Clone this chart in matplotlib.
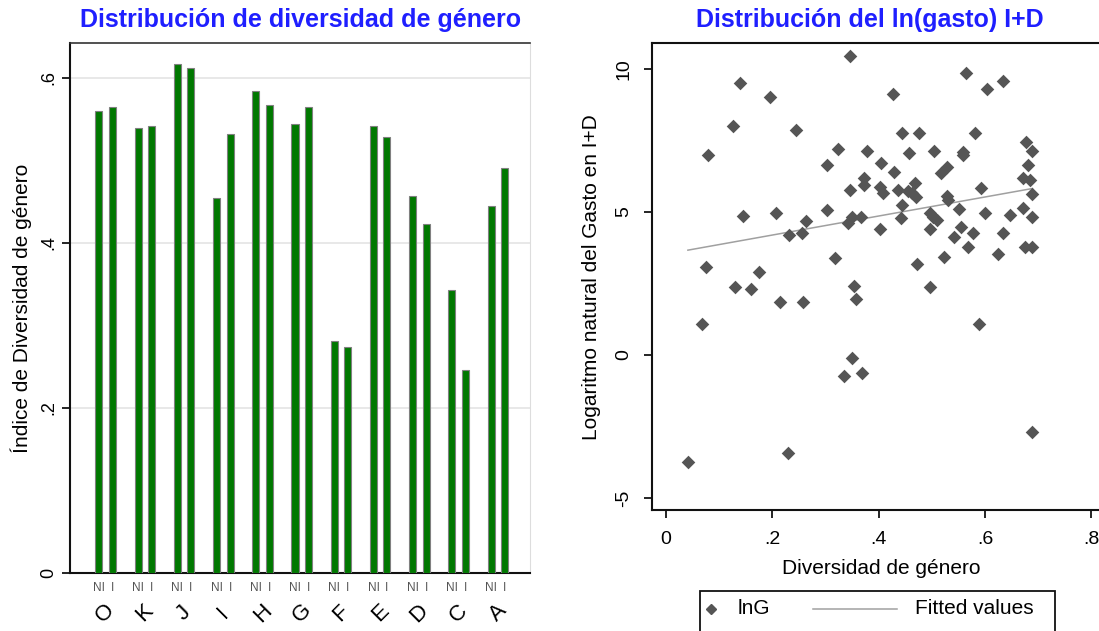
import numpy as np
import matplotlib
matplotlib.use("Agg")
import matplotlib.pyplot as plt
from matplotlib.lines import Line2D
from matplotlib.patches import Rectangle

plt.rcParams["font.family"] = ["Liberation Sans", "DejaVu Sans"]

# --- left panel: gender diversity index by sector, NI vs I
sectors = ["O", "K", "J", "I", "H", "G", "F", "E", "D", "C", "A"]
div_ni = [0.560, 0.539, 0.617, 0.454, 0.584, 0.544, 0.281, 0.542, 0.457, 0.343, 0.445]
div_i = [0.565, 0.542, 0.612, 0.532, 0.567, 0.565, 0.274, 0.528, 0.423, 0.246, 0.490]
sub_labels = ["NI", "I"]
left_yticks = [0, 0.2, 0.4, 0.6]
left_yticklabels = ["0", ".2", ".4", ".6"]

# --- right panel: ln(R&D spending) vs gender diversity
div_x = [0.346, 0.139, 0.196, 0.427, 0.564, 0.603, 0.633, 0.126, 0.2445, 0.079,
         0.303, 0.324, 0.379, 0.405, 0.430, 0.445, 0.476, 0.458, 0.504, 0.559,
         0.559, 0.582, 0.677, 0.689, 0.680, 0.671, 0.685, 0.688, 0.671, 0.689,
         0.676, 0.689, 0.625, 0.633, 0.647, 0.600, 0.593, 0.578, 0.569, 0.555,
         0.551, 0.541, 0.523, 0.528, 0.531, 0.517, 0.528, 0.497, 0.503, 0.509,
         0.497, 0.472, 0.470, 0.462, 0.456, 0.468, 0.437, 0.445, 0.442, 0.402,
         0.403, 0.409, 0.372, 0.372, 0.347, 0.368, 0.351, 0.343, 0.303, 0.318,
         0.263, 0.256, 0.231, 0.208, 0.146, 0.076, 0.175, 0.131, 0.160, 0.215,
         0.259, 0.354, 0.358, 0.497, 0.068, 0.589, 0.351, 0.335, 0.369, 0.688,
         0.230, 0.042]
lng = [10.47, 9.52, 9.03, 9.11, 9.85, 9.31, 9.59, 8.01, 7.88, 6.99,
       6.65, 7.20, 7.12, 6.72, 6.39, 7.75, 7.75, 7.06, 7.12, 7.10,
       6.99, 7.75, 7.46, 7.13, 6.65, 6.19, 6.12, 5.63, 5.15, 4.81,
       3.79, 3.79, 3.52, 4.26, 4.90, 4.95, 5.83, 4.26, 3.79, 4.46,
       5.09, 4.14, 3.44, 5.57, 5.42, 6.37, 6.58, 4.95, 4.84, 4.72,
       4.41, 3.17, 5.54, 5.65, 5.73, 6.02, 5.77, 5.24, 4.80, 4.41,
       5.86, 5.65, 6.20, 5.94, 5.77, 4.81, 4.84, 4.60, 5.07, 3.38,
       4.69, 4.26, 4.20, 4.95, 4.87, 3.09, 2.91, 2.37, 2.30, 1.86,
       1.86, 2.41, 1.95, 2.37, 1.07, 1.07, -0.12, -0.72, -0.64, -2.70,
       -3.44, -3.73]
right_xticks = [0, 0.2, 0.4, 0.6, 0.8]
right_xticklabels = ["0", ".2", ".4", ".6", ".8"]
right_yticks = [-5, 0, 5, 10]

W, H = 1099, 631
fig = plt.figure(figsize=(W / 100, H / 100), dpi=100)

blue = "#1f1fff"
green = "#007800"

# ---------------- left: grouped bars
axL = fig.add_axes([70 / W, (H - 573) / H, 460 / W, 530 / H])
pos = np.arange(len(sectors))
bw = 0.18
off = 0.172
axL.bar(pos - off, div_ni, bw, color=green, edgecolor="#808080", linewidth=0.8, zorder=3)
axL.bar(pos + off, div_i, bw, color=green, edgecolor="#808080", linewidth=0.8, zorder=3)
axL.set_xlim(-0.91, 10.82)
axL.set_ylim(0, 0.642)
axL.set_yticks(left_yticks)
axL.set_yticklabels(left_yticklabels, rotation=90, va="center", fontsize=13)
axL.yaxis.grid(True, color="#e4e4e4", linewidth=1.2, zorder=0)
axL.set_xticks([])
axL.tick_params(axis="y", length=6, width=1.2, pad=3)
for s in ["left", "bottom"]:
    axL.spines[s].set_linewidth(1.5)
    axL.spines[s].set_color("#111111")
axL.spines["top"].set_color("#333333")
axL.spines["top"].set_linewidth(1.2)
axL.spines["right"].set_color("#dddddd")
axL.set_ylabel("Índice de Diversidad de género", fontsize=15, labelpad=6)

for i, sec in enumerate(sectors):
    for p, lab in zip([pos[i] - off, pos[i] + off], sub_labels):
        axL.annotate(lab, (p, 0), xytext=(0, -11), textcoords="offset points",
                     ha="center", va="center", fontsize=8.5, color="#555555",
                     annotation_clip=False)
    axL.annotate(sec, (pos[i], 0), xytext=(0, -29), textcoords="offset points",
                 ha="center", va="center", fontsize=16, rotation=45,
                 annotation_clip=False)

fig.text(301 / W, 1 - 20 / H, "Distribución de diversidad de género", ha="center",
         va="center", fontsize=18, fontweight="bold", color=blue)

# ---------------- right: scatter + linear fit
axR = fig.add_axes([651.7 / W, (H - 510) / H, 460 / W, 466.7 / H])
axR.scatter(div_x, lng, marker="D", s=48, color="#555555", linewidths=0, zorder=3)
xarr = np.array(div_x)
b, a = np.polyfit(xarr, np.array(lng), 1)
xs = np.array([xarr.min(), xarr.max()])
axR.plot(xs, a + b * xs, color="#a0a0a0", linewidth=1.1, zorder=2)
axR.set_xlim(-0.026, 0.838)
axR.set_ylim(-5.42, 10.9)
axR.set_xticks(right_xticks)
axR.set_xticklabels(right_xticklabels, fontsize=14)
axR.set_yticks(right_yticks)
axR.set_yticklabels([str(v) for v in right_yticks], rotation=90, va="center", fontsize=14)
axR.tick_params(length=6, width=1.2)
axR.tick_params(axis="x", pad=9)
axR.tick_params(axis="y", pad=8)
for s in ["left", "bottom", "top"]:
    axR.spines[s].set_linewidth(1.5)
    axR.spines[s].set_color("#111111")
axR.spines["right"].set_visible(False)
axR.set_xlabel("Diversidad de género", fontsize=15, labelpad=8)
axR.set_ylabel("Logaritmo natural del Gasto en I+D", fontsize=15, labelpad=10)

fig.text(870 / W, 1 - 20 / H, "Distribución del ln(gasto) I+D", ha="center",
         va="center", fontsize=18, fontweight="bold", color=blue)

# legend box (runs off the bottom edge as in the original)
fig.patches.append(Rectangle((700 / W, -0.05), 355 / W, 0.05 + (H - 591) / H,
                             transform=fig.transFigure, facecolor="white",
                             edgecolor="#111111", linewidth=1.3))
ly = 1 - 609 / H
fig.lines.append(Line2D([711 / W], [ly], marker="D", markersize=5.5, color="#555555",
                        linestyle="none", transform=fig.transFigure))
fig.text(738 / W, ly, "lnG", ha="left", va="center", fontsize=15)
fig.lines.append(Line2D([813 / W, 897 / W], [ly, ly], color="#a0a0a0", linewidth=1.1,
                        transform=fig.transFigure))
fig.text(915 / W, ly, "Fitted values", ha="left", va="center", fontsize=15)

fig.savefig("out.png", dpi=100)
